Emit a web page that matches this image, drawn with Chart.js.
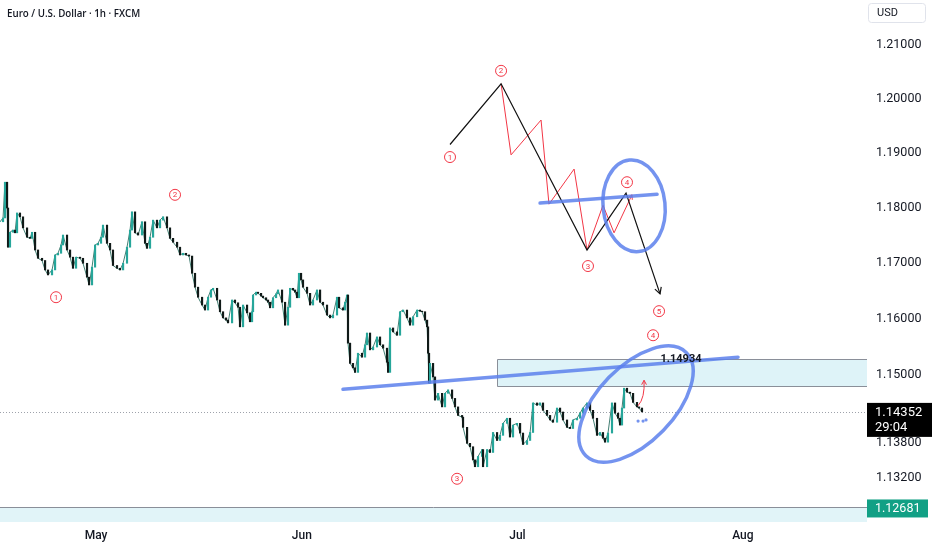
<!DOCTYPE html>
<html>
<head>
<meta charset="utf-8">
<script src="https://cdn.jsdelivr.net/npm/chart.js@4.4.1/dist/chart.umd.min.js"></script>
<style>
html, body { margin: 0; padding: 0; background: #fff; }
#wrap { position: relative; width: 932px; height: 550px; }
</style>
</head>
<body>
<div id="wrap"><canvas id="chart" width="932" height="550"></canvas></div>
<script>
// x values are trading days counted from May 1 (weekends skipped, like the TV time axis)
const monthLabels = ["May", "Jun", "Jul", "Aug"];
const monthTicks = [0, 21, 43, 66];
const priceTicks = [1.21, 1.20, 1.19, 1.18, 1.17, 1.16, 1.15, 1.138, 1.132];
const priceMin = 1.12429;
const priceMax = 1.21842;

const sessions = [
    -9.80, -9.49, -9.29, -9.08, -8.98, -8.78, -8.47, -8.27, -8.06, -7.76, -7.45, -7.04, -6.73, -6.53, -6.22,
    -5.92, -5.51, -5.20, -4.90, -4.49, -4.18, -3.88, -3.57, -3.37, -2.96, -2.65, -2.35, -2.04, -1.63, -1.33,
    -0.92, -0.71, -0.41, -0.10, 0.20, 0.51, 0.71, 1.12, 1.43, 1.73, 2.14, 2.45, 2.76, 3.16, 3.47,
    3.67, 3.98, 4.29, 4.69, 5.00, 5.20, 5.51, 5.82, 6.22, 6.53, 6.84, 7.24, 7.55, 7.86, 8.27,
    8.57, 8.88, 9.18, 9.49, 9.80, 10.10, 10.41, 10.82, 11.12, 11.43, 11.73, 11.94, 12.35, 12.65, 12.96,
    13.27, 13.47, 13.88, 14.18, 14.49, 14.69, 15.00, 15.41, 15.71, 15.92, 16.02, 16.33, 16.53, 16.84, 17.04,
    17.35, 17.55, 17.76, 18.06, 18.37, 18.57, 18.98, 19.29, 19.59, 19.80, 20.10, 20.31, 20.51, 20.71, 20.92,
    21.12, 21.53, 21.84, 22.14, 22.55, 22.86, 23.16, 23.57, 23.88, 24.18, 24.59, 24.80, 25.20, 25.41, 25.61,
    25.71, 25.92, 26.22, 26.43, 26.73, 27.14, 27.45, 27.65, 27.96, 28.27, 28.67, 28.98, 29.29, 29.69, 29.80,
    30.00, 30.31, 30.71, 31.02, 31.33, 31.73, 32.04, 32.35, 32.76, 33.06, 33.27, 33.57, 33.78, 33.88, 33.98,
    34.08, 34.39, 34.59, 34.90, 35.31, 35.61, 35.92, 36.33, 36.63, 36.94, 37.35, 37.45, 37.86, 38.16, 38.47,
    38.67, 38.98, 39.39, 39.49, 39.90, 40.20, 40.51, 40.92, 41.22, 41.53, 41.94, 42.24, 42.55, 42.96, 43.27,
    43.57, 43.98, 44.29, 44.59, 45.00, 45.31, 45.61, 46.02, 46.33, 46.63, 47.04, 47.35, 47.65, 48.06, 48.37,
    48.67, 49.08, 49.39, 49.69, 50.10, 50.41, 50.71, 51.12, 51.43, 51.73, 51.94, 52.24, 52.65, 52.96, 53.27,
    53.47, 53.67, 53.88, 54.18, 54.49, 54.80, 55.20, 55.41, 55.71
];
const closes = [
    1.1775, 1.1782, 1.1847, 1.1800, 1.1729, 1.1756, 1.1760, 1.1755, 1.1791, 1.1784, 1.1764, 1.1747, 1.1745, 1.1756, 1.1724,
    1.1709, 1.1705, 1.1688, 1.1679, 1.1688, 1.1715, 1.1718, 1.1733, 1.1751, 1.1724, 1.1711, 1.1691, 1.1711, 1.1709, 1.1700,
    1.1675, 1.1661, 1.1693, 1.1733, 1.1736, 1.1747, 1.1769, 1.1736, 1.1724, 1.1696, 1.1691, 1.1688, 1.1700, 1.1729, 1.1760,
    1.1793, 1.1755, 1.1751, 1.1775, 1.1736, 1.1727, 1.1747, 1.1778, 1.1764, 1.1778, 1.1784, 1.1764, 1.1745, 1.1738, 1.1729,
    1.1715, 1.1718, 1.1715, 1.1713, 1.1682, 1.1657, 1.1639, 1.1625, 1.1616, 1.1639, 1.1652, 1.1655, 1.1634, 1.1613, 1.1602,
    1.1598, 1.1593, 1.1634, 1.1629, 1.1621, 1.1586, 1.1625, 1.1611, 1.1595, 1.1613, 1.1643, 1.1648, 1.1646, 1.1641, 1.1638,
    1.1634, 1.1630, 1.1620, 1.1638, 1.1645, 1.1652, 1.1630, 1.1589, 1.1621, 1.1655, 1.1652, 1.1648, 1.1638, 1.1682, 1.1670,
    1.1657, 1.1646, 1.1625, 1.1634, 1.1652, 1.1630, 1.1625, 1.1607, 1.1602, 1.1607, 1.1639, 1.1620, 1.1616, 1.1630, 1.1643,
    1.1557, 1.1521, 1.1513, 1.1505, 1.1539, 1.1532, 1.1554, 1.1575, 1.1545, 1.1550, 1.1568, 1.1554, 1.1548, 1.1523, 1.1505,
    1.1584, 1.1577, 1.1571, 1.1613, 1.1616, 1.1602, 1.1589, 1.1604, 1.1616, 1.1614, 1.1613, 1.1598, 1.1586, 1.1539, 1.1486,
    1.1521, 1.1497, 1.1456, 1.1468, 1.1444, 1.1468, 1.1474, 1.1459, 1.1444, 1.1429, 1.1426, 1.1408, 1.1380, 1.1374, 1.1351,
    1.1339, 1.1357, 1.1369, 1.1339, 1.1369, 1.1364, 1.1399, 1.1385, 1.1394, 1.1415, 1.1424, 1.1391, 1.1412, 1.1415, 1.1398,
    1.1378, 1.1385, 1.1399, 1.1451, 1.1447, 1.1451, 1.1438, 1.1429, 1.1421, 1.1417, 1.1442, 1.1435, 1.1421, 1.1408, 1.1406,
    1.1421, 1.1424, 1.1433, 1.1442, 1.1451, 1.1438, 1.1424, 1.1394, 1.1399, 1.1389, 1.1382, 1.1398, 1.1451, 1.1433, 1.1424,
    1.1412, 1.1442, 1.1477, 1.1470, 1.1468, 1.1452, 1.1444, 1.1442, 1.14352
];

const lastPrice = 1.14352;
const countdown = "29:04";
const supportPrice = 1.12681;
const zoneTop = 1.1529;
const zoneBottom = 1.1481;
const zoneStart = 40.92;
const zoneText = "1.14934";

// drawings on the chart, in (trading day, price)
const blackWave = [[36.12, 1.1916], [41.33, 1.2028], [50.10, 1.1724], [54.08, 1.1827], [57.55, 1.1645]];
const redWave = [[41.33, 1.2028], [42.35, 1.1897], [45.41, 1.1961], [46.22, 1.1807], [48.78, 1.1871],
    [50.10, 1.1724], [51.73, 1.1805], [52.86, 1.1755], [54.69, 1.1824]];
const waveLabels = [["1", -4.08, 1.1639], ["2", 8.06, 1.1824], ["3", 36.84, 1.1318], ["1", 36.12, 1.1893],
    ["2", 41.33, 1.2052], ["3", 50.20, 1.1695], ["4", 54.18, 1.1847], ["5", 57.45, 1.1614], ["4", 56.84, 1.1571]];
const trendUpper = [[45.31, 1.1809], [57.25, 1.1825]];
const trendLower = [[25.20, 1.1475], [65.51, 1.1532]];
const loopUpper = [54.90, 1.1804];
const loopLower = [55.10, 1.1449];
const blueDots = [[55.31, 1.1419], [55.82, 1.1419], [56.12, 1.1421]];
const redArrow = [[55.31, 1.1446], [55.92, 1.1491]];

const RED = "#f23645";
const BLUE = "rgba(92,128,236,0.85)";

function arrowHead(ctx, x0, y0, x1, y1, size) {
    const a = Math.atan2(y1 - y0, x1 - x0);
    ctx.beginPath();
    ctx.moveTo(x1 - size * Math.cos(a - 0.5), y1 - size * Math.sin(a - 0.5));
    ctx.lineTo(x1, y1);
    ctx.lineTo(x1 - size * Math.cos(a + 0.5), y1 - size * Math.sin(a + 0.5));
    ctx.stroke();
}

function polyline(ctx, pts, X, Y) {
    ctx.beginPath();
    pts.forEach((p, i) => {
        if (i === 0) ctx.moveTo(X(p[0]), Y(p[1]));
        else ctx.lineTo(X(p[0]), Y(p[1]));
    });
    ctx.stroke();
}

const overlay = {
    id: "overlay",
    beforeDatasetsDraw(chart) {
        const ctx = chart.ctx;
        const area = chart.chartArea;
        const X = v => chart.scales.x.getPixelForValue(v);
        const Y = v => chart.scales.y.getPixelForValue(v);
        ctx.save();
        // support band at the bottom
        const ys = Y(supportPrice);
        ctx.fillStyle = "#e1f4f8";
        ctx.fillRect(area.left, ys, area.right - area.left, area.bottom - ys);
        ctx.strokeStyle = "#8a8f99";
        ctx.lineWidth = 1;
        ctx.beginPath();
        ctx.moveTo(area.left, Math.round(ys) + 0.5);
        ctx.lineTo(area.right, Math.round(ys) + 0.5);
        ctx.stroke();
        // resistance zone
        const x0 = Math.round(X(zoneStart)) + 0.5;
        const yt = Math.round(Y(zoneTop)) + 0.5;
        const yb = Math.round(Y(zoneBottom)) + 0.5;
        ctx.fillStyle = "#def3f8";
        ctx.fillRect(x0, yt, area.right - x0, yb - yt);
        ctx.beginPath();
        ctx.moveTo(area.right, yt);
        ctx.lineTo(x0, yt);
        ctx.lineTo(x0, yb);
        ctx.lineTo(area.right, yb);
        ctx.stroke();
        // last price dotted line
        const yl = Math.round(Y(lastPrice)) + 0.5;
        ctx.strokeStyle = "#9ea2ab";
        ctx.setLineDash([1, 2]);
        ctx.beginPath();
        ctx.moveTo(area.left, yl);
        ctx.lineTo(area.right, yl);
        ctx.stroke();
        ctx.restore();
    },
    afterDatasetsDraw(chart) {
        const ctx = chart.ctx;
        const X = v => chart.scales.x.getPixelForValue(v);
        const Y = v => chart.scales.y.getPixelForValue(v);
        ctx.save();
        ctx.lineJoin = "miter";
        // red sub-waves
        ctx.strokeStyle = RED;
        ctx.lineWidth = 1;
        polyline(ctx, redWave, X, Y);
        const r1 = redWave[redWave.length - 2], r2 = redWave[redWave.length - 1];
        arrowHead(ctx, X(r1[0]), Y(r1[1]), X(r2[0]), Y(r2[1]), 5);
        // black main wave
        ctx.strokeStyle = "#111";
        ctx.lineWidth = 1.2;
        polyline(ctx, blackWave, X, Y);
        const b1 = blackWave[blackWave.length - 2], b2 = blackWave[blackWave.length - 1];
        arrowHead(ctx, X(b1[0]), Y(b1[1]), X(b2[0]), Y(b2[1]), 7);
        // blue trend lines and loops
        ctx.strokeStyle = BLUE;
        ctx.lineWidth = 3.5;
        ctx.lineCap = "round";
        polyline(ctx, trendUpper, X, Y);
        polyline(ctx, trendLower, X, Y);
        ctx.beginPath();
        ctx.ellipse(X(loopUpper[0]), Y(loopUpper[1]), 31, 46, -0.1, 0, Math.PI * 2);
        ctx.stroke();
        ctx.beginPath();
        ctx.ellipse(X(loopLower[0]), Y(loopLower[1]), 72, 38, -0.8, 0, Math.PI * 2);
        ctx.stroke();
        ctx.fillStyle = BLUE;
        blueDots.forEach(p => {
            ctx.beginPath();
            ctx.arc(X(p[0]), Y(p[1]), 1.6, 0, Math.PI * 2);
            ctx.fill();
        });
        // small red arrow near last price
        ctx.strokeStyle = RED;
        ctx.lineWidth = 1;
        ctx.lineCap = "butt";
        const ax0 = X(redArrow[0][0]), ay0 = Y(redArrow[0][1]);
        const ax1 = X(redArrow[1][0]), ay1 = Y(redArrow[1][1]);
        ctx.beginPath();
        ctx.moveTo(ax0, ay0);
        ctx.quadraticCurveTo(ax1 + 1, ay0 - 8, ax1, ay1);
        ctx.stroke();
        arrowHead(ctx, ax1, ay1 + 6, ax1, ay1, 5);
        // zone price text
        ctx.fillStyle = "#131722";
        ctx.font = "bold 11px Roboto";
        ctx.textAlign = "center";
        ctx.textBaseline = "middle";
        ctx.fillText(zoneText, 681, Y(zoneTop));
        // circled wave counts
        waveLabels.forEach(l => {
            const x = X(l[1]), y = Y(l[2]);
            ctx.beginPath();
            ctx.arc(x, y, 5.5, 0, Math.PI * 2);
            ctx.fillStyle = "#fff";
            ctx.fill();
            ctx.strokeStyle = RED;
            ctx.lineWidth = 1;
            ctx.stroke();
            ctx.fillStyle = RED;
            ctx.font = "8px Roboto";
            ctx.fillText(l[0], x, y + 0.5);
        });
        ctx.restore();
    },
    afterDraw(chart) {
        const ctx = chart.ctx;
        const area = chart.chartArea;
        const Y = v => chart.scales.y.getPixelForValue(v);
        ctx.save();
        // title
        ctx.fillStyle = "#131722";
        ctx.textAlign = "left";
        ctx.textBaseline = "middle";
        const title = "Euro / U.S. Dollar \u00b7 1h \u00b7 FXCM";
        let size = 12;
        ctx.font = "600 " + size + "px 'Open Sans'";
        while (ctx.measureText(title).width > 134 && size > 8) {
            size -= 0.25;
            ctx.font = "600 " + size + "px 'Open Sans'";
        }
        ctx.fillText(title, 7, 14);
        // currency box
        ctx.strokeStyle = "#e0e3eb";
        ctx.lineWidth = 1;
        ctx.beginPath();
        ctx.roundRect(868.5, 3.5, 57, 19, 3);
        ctx.stroke();
        ctx.font = "11px Roboto";
        ctx.fillText("USD", 877, 13.5);
        // support price label
        const ys = Y(supportPrice);
        ctx.fillStyle = "#12a085";
        ctx.fillRect(area.right, ys - 8, 61, 18);
        ctx.fillStyle = "#fff";
        ctx.font = "12.5px Roboto";
        ctx.fillText(supportPrice.toFixed(5), area.right + 8, ys + 1);
        // last price label
        const yl = Y(lastPrice);
        ctx.fillStyle = "#000";
        ctx.fillRect(area.right, yl - 9, 932 - area.right, 34);
        ctx.fillStyle = "#fff";
        ctx.font = "13px Roboto";
        ctx.fillText(lastPrice.toFixed(5), area.right + 8, yl + 0.5);
        ctx.fillText(countdown, area.right + 8, yl + 16);
        ctx.restore();
    }
};

const candleColors = closes.map((c, i) => (i === 0 || c >= closes[i - 1]) ? "#26a69a" : "#101a18");

const ctx = document.getElementById("chart").getContext("2d");
const chart = new Chart(ctx, {
    type: "bar",
    data: {
        datasets: [
            {
                type: "line",
                data: sessions.map((x, i) => ({ x: x, y: closes[i] })),
                borderColor: "rgba(20,95,80,0.8)",
                borderWidth: 1,
                pointRadius: 0,
                order: 2
            },
            {
                type: "bar",
                data: sessions.map((x, i) => ({ x: x, y: [i ? closes[i - 1] : closes[i], closes[i]] })),
                backgroundColor: candleColors,
                barThickness: 1.5,
                order: 1
            }
        ]
    },
    options: {
        responsive: false,
        animation: false,
        layout: { padding: 0 },
        plugins: { legend: { display: false }, tooltip: { enabled: false } },
        scales: {
            x: {
                type: "linear",
                min: -9.8,
                max: 78.67,
                offset: false,
                grid: { display: false, drawTicks: false },
                border: { display: false },
                afterBuildTicks: s => { s.ticks = monthTicks.map(v => ({ value: v })); },
                afterFit: s => {
                    s.height = 28;
                    s.paddingLeft = 0;
                    s.paddingRight = 0;
                },
                ticks: {
                    autoSkip: false,
                    maxRotation: 0,
                    padding: 7,
                    color: "#131722",
                    font: { family: "Roboto", size: 12, weight: "500" },
                    callback: v => monthLabels[monthTicks.indexOf(v)]
                }
            },
            y: {
                type: "logarithmic",
                position: "right",
                bounds: "data",
                min: priceMin,
                max: priceMax,
                grid: { display: false, drawTicks: false },
                border: { display: false },
                afterBuildTicks: s => {
                    s.ticks = priceTicks.map(v => ({ value: v }));
                    s.min = priceMin;
                    s.max = priceMax;
                },
                afterFit: s => {
                    s.width = 65;
                    s.paddingTop = 0;
                    s.paddingBottom = 0;
                },
                ticks: {
                    autoSkip: false,
                    padding: 9,
                    color: "#131722",
                    font: { family: "Roboto", size: 12.5 },
                    callback: v => Number(v).toFixed(5)
                }
            }
        }
    },
    plugins: [overlay]
});
</script>
</body>
</html>
